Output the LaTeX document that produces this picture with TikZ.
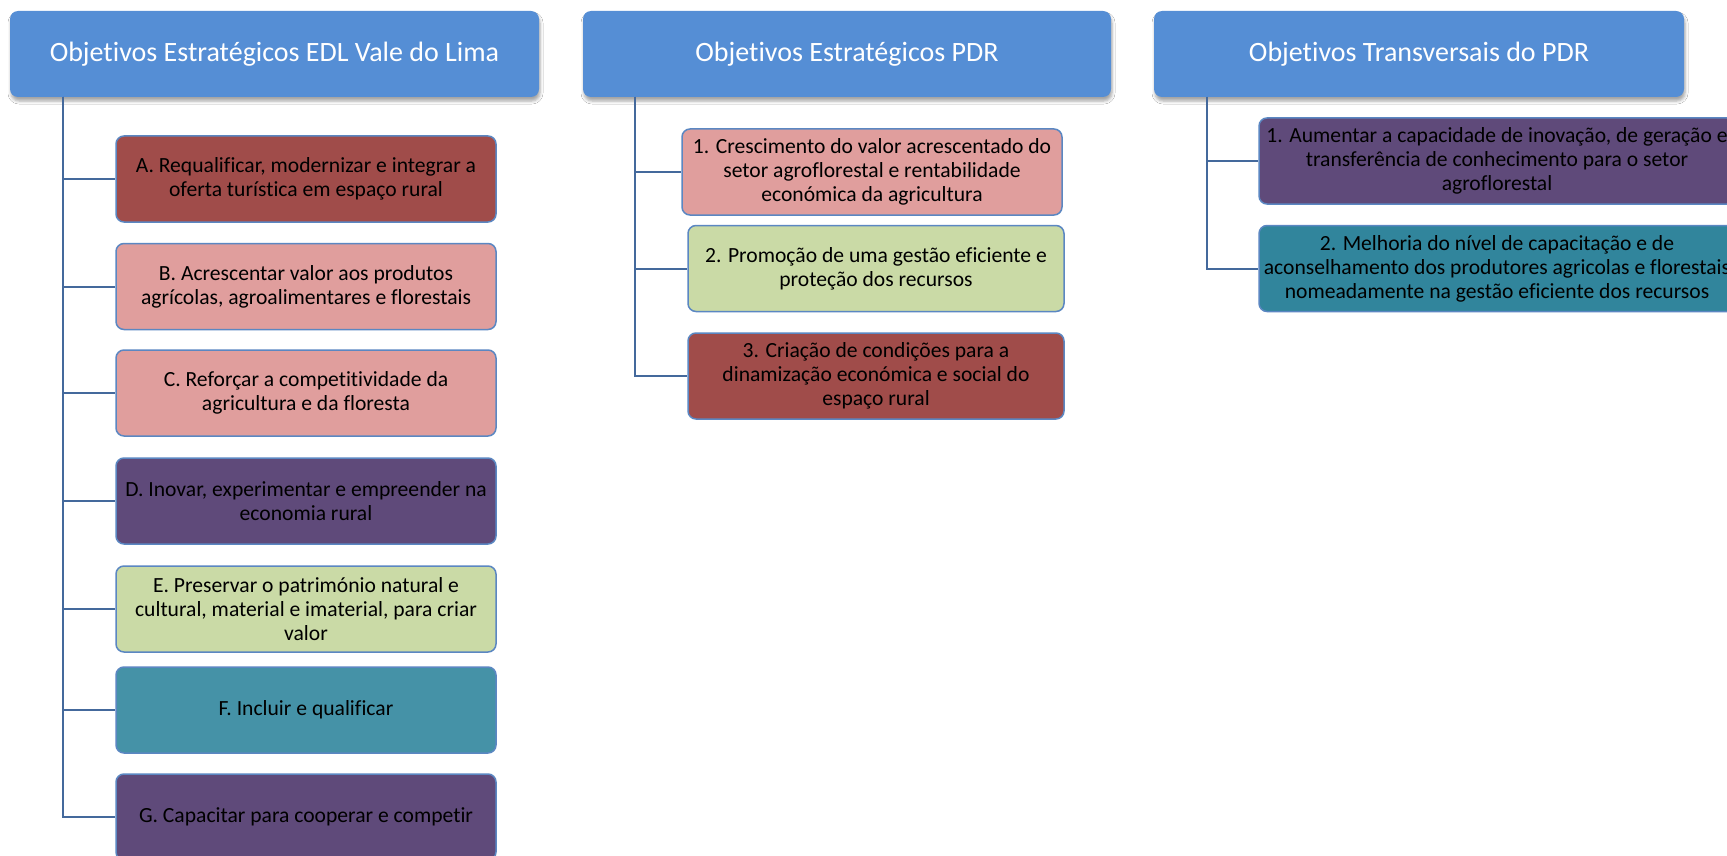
\documentclass[tikz,border=0pt]{standalone}
\usepackage{fontspec}
\setmainfont[RawFeature={-liga;-clig;-dlig;-calt}]{Carlito}
\usetikzlibrary{shadows.blur}

\definecolor{hdrblue}{HTML}{558ED5}
\definecolor{edgeblue}{HTML}{5B87C2}
\definecolor{linkblue}{HTML}{44699C}
\definecolor{dkred}{HTML}{A04C4A}
\definecolor{rose}{HTML}{E09E9D}
\definecolor{plum}{HTML}{5F4A7A}
\definecolor{sage}{HTML}{CADAA6}
\definecolor{tealA}{HTML}{4592A7}
\definecolor{tealB}{HTML}{31859C}

\begin{document}
\begin{tikzpicture}[x=1pt,y=-1pt,
  header/.style={rounded corners=8pt, fill=hdrblue, text=white,
    font=\fontsize{28}{33}\selectfont, minimum height=86pt, inner sep=0pt,
    blur shadow={shadow xshift=1pt, shadow yshift=-4pt, shadow blur radius=3pt, shadow opacity=35}},
  item/.style={rounded corners=8pt, draw=edgeblue, line width=1.5pt,
    minimum height=86pt, inner sep=0pt, align=center, text=black,
    font=\fontsize{21.6}{24}\selectfont},
  conn/.style={draw=linkblue, line width=2pt}]

% page frame
\path[use as bounding box, fill=white] (0,0) rectangle (1727,856);
\clip (0,0) rectangle (1727,856);

% column headers
\node[header, minimum width=529pt] (h1) at (274.5,54) {Objetivos Estratégicos EDL Vale do Lima};
\node[header, minimum width=528pt] (h2) at (847,54) {Objetivos Estratégicos PDR};
\node[header, minimum width=530pt] (h3) at (1419,54) {Objetivos Transversais do PDR};

% first column
\node[item, fill=dkred, minimum width=380pt] (a) at (306,179) {A. Requalificar, modernizar e integrar a\\oferta turística em espaço rural};
\node[item, fill=rose,  minimum width=380pt] (b) at (306,286.5) {B. Acrescentar valor aos produtos\\agrícolas, agroalimentares e florestais};
\node[item, fill=rose,  minimum width=380pt] (c) at (306,393) {C. Reforçar a competitividade da\\agricultura e da floresta};
\node[item, fill=plum,  minimum width=380pt] (d) at (306,501) {D. Inovar, experimentar e empreender na\\economia rural};
\node[item, fill=sage,  minimum width=380pt] (e) at (306,609) {E. Preservar o património natural e\\cultural, material e imaterial, para criar\\valor};
\node[item, fill=tealA, minimum width=380pt] (f) at (306,710) {F. Incluir e qualificar};
\node[item, fill=plum,  minimum width=380pt] (g) at (306,817) {G. Capacitar para cooperar e competir};

% second column
\node[item, fill=rose,  minimum width=380pt] (p1) at (872,172) {1. Crescimento do valor acrescentado do\\setor agroflorestal e rentabilidade\\económica da agricultura};
\node[item, fill=sage,  minimum width=376pt] (p2) at (876,268.5) {2. Promoção de uma gestão eficiente e\\proteção dos recursos};
\node[item, fill=dkred, minimum width=376pt] (p3) at (876,376) {3. Criação de condições para a\\dinamização económica e social do\\espaço rural};

% third column
\node[item, fill=plum,  minimum width=476pt] (t1) at (1497,161) {1. Aumentar a capacidade de inovação, de geração e\\transferência de conhecimento para o setor\\agroflorestal};
\node[item, fill=tealB, minimum width=476pt] (t2) at (1497,268.5) {2. Melhoria do nível de capacitação e de\\aconselhamento dos produtores agricolas e florestais\\nomeadamente na gestão eficiente dos recursos};

% trunk start points under each header
\coordinate (r1) at (63,97);
\coordinate (r2) at (635,97);
\coordinate (r3) at (1207,97);

% connectors
\foreach \n in {a,b,c,d,e,f,g} \draw[conn] (r1) |- (\n.west);
\foreach \n in {p1,p2,p3} \draw[conn] (r2) |- (\n.west);
\foreach \n in {t1,t2} \draw[conn] (r3) |- (\n.west);
\end{tikzpicture}
\end{document}
